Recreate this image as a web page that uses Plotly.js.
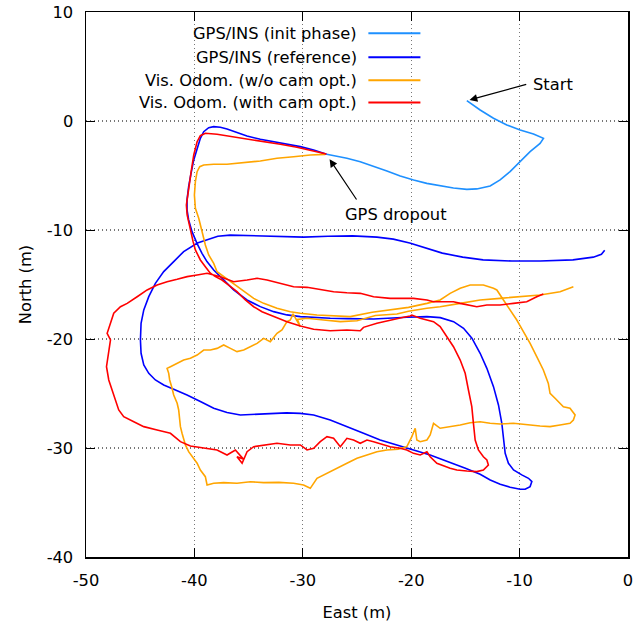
<!DOCTYPE html>
<html><head><meta charset="utf-8">
<script src="https://cdn.plot.ly/plotly-3.0.1.min.js"></script>
<style>html,body{margin:0;padding:0;background:#fff}</style>
</head><body><div id="chart" style="width:642px;height:626px"></div>
<script>
const seriesNames = ["GPS/INS (init phase)", "GPS/INS (reference)", "Vis. Odom. (w/o cam opt.)", "Vis. Odom. (with cam opt.)"];
const seriesColors = ["#1E90FF", "#0000FF", "#FFA500", "#FF0000"];

const initEast = [-14.87,-13.64,-12.41,-11.18,-9.95,-8.72,-7.80,-8.11,-9.03,-9.95,-10.88,-11.80,-12.72,-13.95,-14.87,-16.10,-17.33,-18.56,-19.78,-21.01,-22.24,-23.47,-24.70,-25.93,-27.16,-27.80];
const initNorth = [1.87,1.01,0.25,-0.36,-0.82,-1.19,-1.59,-2.05,-2.81,-3.73,-4.64,-5.41,-5.96,-6.23,-6.27,-6.14,-5.93,-5.72,-5.41,-5.04,-4.58,-4.12,-3.73,-3.42,-3.18,-3.05];

const refEast = [-27.80,-29.0,-30.23,-31.46,-32.69,-33.92,-35.15,-36.07,-36.99,-37.61,-38.22,-38.68,-39.14,-39.45,-39.76,-40.06,-40.31,-40.53,-40.68,-40.68,-40.53,-40.22,-39.76,-39.30,-38.84,-38.22,-37.30,-36.38,-35.15,-33.92,-32.69,-31.46,-30.23,-29.0,-27.47,-25.93,-24.70,-23.47,-20.40,-18.55,-17.32,-16.09,-15.17,-14.40,-13.64,-13.02,-12.41,-11.95,-11.64,-11.49,-11.33,-11.03,-10.56,-9.80,-9.18,-8.87,-9.03,-9.49,-9.95,-10.87,-11.79,-12.71,-13.64,-15.0,-16.5,-18.25,-19.79,-21.32,-22.86,-24.40,-25.93,-27.47,-29.0,-30.23,-31.5,-32.08,-33.31,-34.53,-35.76,-36.99,-38.22,-39.45,-40.68,-41.91,-42.83,-43.60,-44.21,-44.67,-44.92,-44.98,-44.92,-44.67,-44.21,-43.60,-42.83,-41.91,-40.99,-39.72,-37.84,-36.71,-33.32,-29.93,-27.67,-25.41,-23.16,-21.65,-20.14,-18.64,-17.13,-15.25,-13.37,-10.73,-8.10,-5.08,-3.20,-2.45,-2.15];
const refNorth = [-3.05,-2.66,-2.35,-2.14,-1.95,-1.68,-1.37,-1.04,-0.73,-0.58,-0.52,-0.61,-0.98,-1.59,-2.50,-3.57,-4.80,-6.02,-7.24,-8.16,-9.08,-10.15,-11.22,-12.14,-12.90,-13.67,-14.58,-15.50,-16.42,-17.03,-17.49,-17.79,-17.95,-18.04,-18.10,-18.13,-18.13,-18.16,-18.01,-17.95,-18.04,-18.41,-19.02,-19.93,-21.31,-22.69,-24.37,-26.05,-27.73,-29.26,-30.48,-31.40,-32.01,-32.47,-32.78,-33.08,-33.54,-33.79,-33.79,-33.60,-33.33,-32.93,-32.41,-31.86,-31.30,-30.64,-30.18,-29.72,-29.27,-28.65,-28.04,-27.43,-26.97,-26.82,-26.78,-26.81,-26.91,-26.97,-26.97,-26.75,-26.36,-25.74,-25.13,-24.61,-24.22,-23.76,-23.15,-22.38,-21.31,-20.09,-18.56,-17.33,-16.11,-14.89,-13.82,-12.90,-11.98,-11.20,-10.58,-10.47,-10.54,-10.65,-10.58,-10.54,-10.65,-10.84,-11.20,-11.64,-12.12,-12.49,-12.74,-12.85,-12.85,-12.74,-12.49,-12.23,-11.86];

const voEast = [-27.93,-29.31,-30.85,-32.38,-33.92,-35.45,-36.99,-38.22,-39.14,-39.51,-39.75,-39.91,-40.0,-39.91,-39.60,-39.29,-38.99,-38.68,-38.22,-37.91,-37.30,-36.38,-35.45,-34.53,-33.61,-32.38,-31.15,-30.23,-28.69,-27.16,-25.62,-23.6,-21.94,-20.25,-18.55,-17.33,-16.41,-15.48,-14.56,-13.34,-12.41,-12.10,-11.49,-10.88,-10.26,-9.65,-9.03,-8.42,-7.81,-7.35,-7.19,-6.73,-5.96,-5.35,-4.88,-5.04,-5.35,-6.27,-7.19,-8.11,-9.03,-9.95,-10.57,-11.80,-12.72,-13.64,-14.56,-15.48,-16.41,-17.33,-17.94,-18.25,-18.55,-19.17,-19.48,-19.63,-19.94,-20.40,-21.2,-22.24,-23.16,-24.08,-25.0,-25.93,-26.85,-27.77,-28.69,-29.31,-29.93,-30.85,-32.2,-33.61,-34.84,-36.07,-37.30,-38.22,-38.83,-38.99,-39.45,-39.75,-40.21,-40.53,-40.83,-40.99,-41.14,-41.29,-41.35,-41.45,-41.59,-41.91,-42.06,-42.28,-42.37,-42.52,-42.21,-41.59,-40.99,-40.37,-39.75,-39.14,-38.53,-37.91,-37.30,-36.68,-36.07,-35.45,-34.84,-34.22,-33.61,-33.0,-32.38,-31.92,-31.46,-31.15,-30.9,-30.23,-30.5,-29.61,-28.08,-26.54,-25.0,-23.3,-21.32,-20.25,-18.55,-17.33,-15.48,-13.64,-11.80,-9.95,-8.11,-6.27,-5.35,-5.04];
const voNorth = [-3.06,-3.12,-3.28,-3.42,-3.67,-3.83,-3.97,-3.97,-4.04,-4.19,-4.65,-5.57,-6.79,-8.01,-8.93,-10.16,-11.38,-12.29,-13.06,-13.83,-14.28,-14.89,-15.66,-16.27,-16.73,-17.18,-17.50,-17.64,-17.80,-17.89,-17.95,-17.55,-17.35,-17.10,-16.73,-16.42,-15.81,-15.35,-15.05,-15.05,-15.35,-15.50,-16.42,-17.34,-18.26,-19.33,-20.40,-21.62,-22.84,-24.07,-24.98,-25.44,-26.21,-26.36,-26.97,-27.43,-27.73,-27.89,-28.04,-27.98,-27.89,-27.80,-27.73,-27.80,-27.73,-27.59,-27.68,-27.89,-28.04,-28.19,-27.73,-28.81,-29.27,-29.42,-29.27,-28.19,-28.96,-29.88,-30.10,-30.18,-30.34,-30.64,-30.95,-31.40,-31.86,-32.32,-32.78,-33.70,-33.39,-33.24,-33.15,-33.18,-33.09,-33.24,-33.18,-33.24,-33.39,-32.63,-32.02,-31.40,-30.80,-30.34,-29.72,-29.27,-28.65,-28.04,-27.43,-26.51,-25.90,-25.14,-24.52,-23.76,-23.15,-22.69,-22.54,-22.23,-21.93,-21.77,-21.47,-21.01,-21.01,-20.86,-20.55,-20.86,-21.16,-21.01,-20.71,-20.40,-19.94,-20.25,-19.48,-19.17,-18.41,-18.26,-17.70,-18.87,-18.20,-18.10,-18.26,-18.41,-18.32,-17.85,-17.71,-17.45,-17.18,-17.04,-16.73,-16.42,-16.27,-16.12,-15.96,-15.66,-15.35,-15.20];

const vocEast = [-27.83,-29.0,-30.54,-32.07,-33.61,-35.14,-36.68,-37.91,-38.99,-39.45,-39.75,-40.06,-40.30,-40.53,-40.74,-40.67,-40.43,-40.12,-39.91,-39.45,-38.99,-38.53,-38.06,-37.45,-36.84,-36.07,-35.30,-34.53,-33.76,-32.69,-31.46,-30.23,-29.00,-27.47,-25.93,-24.70,-24.40,-23.16,-21.94,-20.71,-20.09,-19.94,-19.17,-17.94,-17.33,-16.71,-16.10,-15.48,-15.02,-14.72,-14.41,-14.26,-14.10,-13.80,-13.34,-13.02,-12.88,-13.34,-13.95,-14.87,-15.79,-16.41,-17.02,-17.63,-18.25,-18.55,-19.17,-19.79,-20.40,-21.01,-21.94,-22.86,-23.47,-24.08,-24.70,-25.32,-25.93,-26.54,-27.16,-27.77,-28.39,-29.00,-29.61,-30.23,-31.15,-32.38,-33.61,-34.53,-35.14,-35.60,-36.07,-35.5,-36.22,-36.99,-37.91,-39.14,-40.37,-41.29,-42.21,-43.44,-44.67,-45.59,-46.52,-46.98,-47.28,-47.59,-47.90,-48.11,-47.90,-47.74,-48.05,-47.74,-47.44,-46.82,-46.20,-45.28,-44.36,-43.44,-42.52,-41.59,-40.67,-39.75,-38.83,-37.60,-36.38,-35.14,-34.22,-33.30,-32.07,-30.85,-29.61,-28.39,-27.16,-25.93,-24.70,-23.47,-21.94,-21.01,-19.79,-18.55,-17.94,-17.02,-16.10,-15.48,-14.87,-13.95,-13.02,-11.80,-10.57,-9.34,-8.42,-7.81];
const vocNorth = [-3.03,-2.75,-2.41,-2.14,-1.90,-1.65,-1.44,-1.22,-1.13,-1.35,-1.90,-3.12,-4.65,-6.17,-7.71,-8.62,-9.84,-11.07,-11.83,-12.75,-13.37,-13.97,-14.28,-14.59,-15.05,-15.66,-16.42,-17.04,-17.50,-17.95,-18.41,-18.81,-19.11,-19.24,-19.17,-19.24,-18.93,-18.56,-18.26,-18.01,-17.89,-17.80,-18.10,-18.41,-18.87,-19.79,-20.71,-21.93,-23.15,-24.68,-26.21,-27.73,-29.27,-30.18,-30.80,-31.10,-31.56,-32.02,-32.17,-32.11,-32.02,-31.86,-31.65,-31.40,-30.80,-30.34,-30.64,-30.49,-30.18,-30.03,-29.88,-29.57,-29.42,-29.27,-29.57,-29.27,-29.11,-29.88,-29.11,-28.96,-29.42,-30.03,-30.18,-29.72,-29.72,-29.57,-29.72,-29.88,-30.34,-31.40,-30.80,-31.00,-30.18,-30.64,-30.18,-30.03,-29.82,-29.42,-28.65,-28.35,-28.04,-27.59,-27.13,-26.51,-25.60,-24.68,-23.76,-22.54,-21.31,-20.09,-19.48,-18.56,-17.64,-17.04,-16.73,-16.12,-15.50,-15.05,-14.74,-14.52,-14.28,-14.13,-13.97,-14.28,-14.74,-14.59,-14.43,-14.59,-14.89,-15.20,-15.26,-15.44,-15.66,-15.75,-15.81,-16.12,-16.27,-16.27,-16.27,-16.42,-16.58,-16.58,-16.58,-16.73,-16.88,-17.04,-16.88,-16.88,-16.73,-16.58,-16.12,-15.87];

const xTicks = [-50,-40,-30,-20,-10,0];
const yTicks = [-40,-30,-20,-10,0,10];

const FONT = "DejaVu Sans, Verdana, sans-serif";
const FS = 16.3;
const xs = [initEast, refEast, voEast, vocEast];
const ys = [initNorth, refNorth, voNorth, vocNorth];

const traces = xs.map((x, i) => ({
  type: "scatter", mode: "lines", name: seriesNames[i],
  x: x, y: ys[i], showlegend: false,
  line: {color: seriesColors[i], width: 1.6}
}));

// gnuplot-style key: text right-aligned, sample line to its right
const legendY = [0.961, 0.917, 0.875, 0.834];
const annotations = seriesNames.map((n, i) => ({
  xref: "paper", yref: "paper", x: 0.503, y: legendY[i],
  xanchor: "right", yanchor: "middle", text: n, showarrow: false,
  font: {family: FONT, size: FS, color: "#000"}
}));
const shapes = seriesNames.map((n, i) => ({
  type: "line", xref: "paper", yref: "paper",
  x0: 0.521, x1: 0.617, y0: legendY[i], y1: legendY[i],
  line: {color: seriesColors[i], width: 2}
}));

annotations.push(
  {x: -14.62, y: 1.93, ax: -9.25, ay: 3.40, axref: "x", ayref: "y", xref: "x", yref: "y",
   text: "", showarrow: true, arrowhead: 2, arrowsize: 1.3, arrowwidth: 1.2, arrowcolor: "#000"},
  {x: -8.95, y: 3.35, xref: "x", yref: "y", text: "Start", showarrow: false,
   xanchor: "left", yanchor: "middle", font: {family: FONT, size: FS, color: "#000"}},
  {x: -27.53, y: -3.51, ax: -24.95, ay: -7.34, axref: "x", ayref: "y", xref: "x", yref: "y",
   text: "", showarrow: true, arrowhead: 2, arrowsize: 1.3, arrowwidth: 1.2, arrowcolor: "#000"},
  {x: -21.37, y: -8.55, xref: "x", yref: "y", text: "GPS dropout", showarrow: false,
   xanchor: "center", yanchor: "middle", font: {family: FONT, size: FS, color: "#000"}}
);

const axisCommon = {
  showline: true, linecolor: "#000", linewidth: 1.5, mirror: "allticks",
  ticks: "inside", ticklen: 9, tickwidth: 1, tickcolor: "#000",
  showgrid: true, gridcolor: "#777", gridwidth: 1.3, griddash: "1px,3px",
  zeroline: false, tickfont: {family: FONT, size: FS, color: "#000"},
  ticklabelstandoff: 8
};

const layout = {
  width: 642, height: 626,
  margin: {l: 86, r: 14, t: 12, b: 69},
  paper_bgcolor: "#fff", plot_bgcolor: "#fff",
  font: {family: FONT, size: FS, color: "#000"},
  xaxis: Object.assign({}, axisCommon, {
    range: [-50, 0], tickvals: xTicks, ticktext: xTicks.map(String),
    title: {text: "East (m)", font: {family: FONT, size: FS, color: "#000"}, standoff: 17}
  }),
  yaxis: Object.assign({}, axisCommon, {
    range: [-40, 10], tickvals: yTicks, ticktext: yTicks.map(String),
    title: {text: "North (m)", font: {family: FONT, size: FS, color: "#000"}, standoff: 11}
  }),
  annotations: annotations, shapes: shapes, showlegend: false
};

Plotly.newPlot("chart", traces, layout, {displayModeBar: false, staticPlot: true});
</script></body></html>
